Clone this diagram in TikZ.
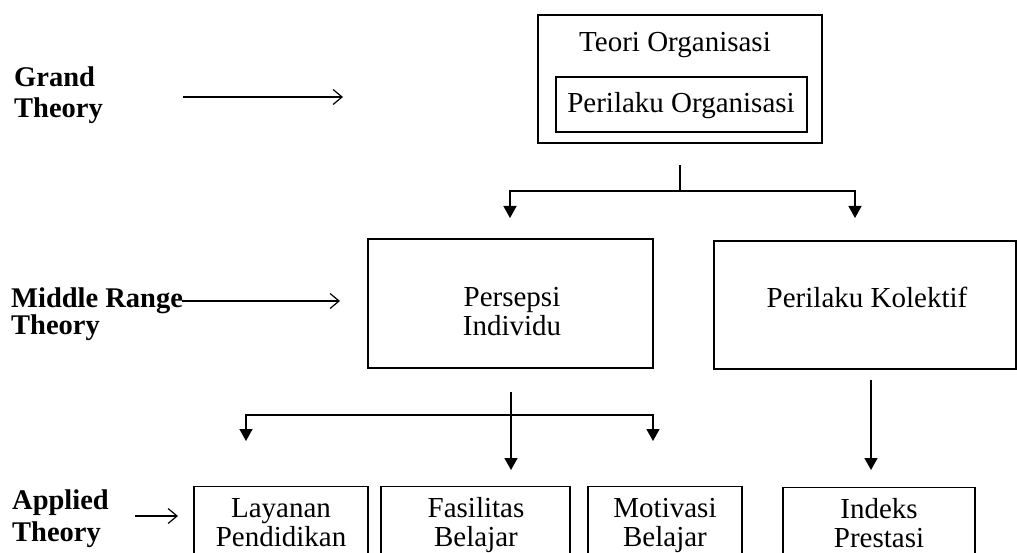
\documentclass[tikz,border=0pt]{standalone}
\usepackage{fontspec}
\setmainfont{Liberation Serif}
\usetikzlibrary{arrows.meta,calc}
\tikzset{
  box/.style={draw, line width=1.2pt, inner sep=0pt},
  txt/.style={font=\fontsize{29}{29}\selectfont, align=center, inner sep=0pt},
  btxt/.style={font=\fontsize{29}{29}\selectfont, align=center, inner sep=0pt},
  lvl/.style={font=\bfseries\fontsize{28.5}{31}\selectfont, align=left, inner sep=0pt, anchor=west},
  ptr/.style={line width=1.2pt, -{Straight Barb[length=9pt,width=15pt,line width=1.2pt]}},
  stub/.style={line width=2.6pt},
  arr/.style={line width=1.5pt, -{Triangle[length=12pt,width=13pt]}},
}
\begin{document}
\begin{tikzpicture}[x=1pt,y=-1pt]
\useasboundingbox (0,0) rectangle (1017,553);
\clip (0,0) rectangle (1017,553);
% top
\node[box, minimum width=284pt, minimum height=128pt] (teori) at (680,79) {};
\node[txt] (teoritxt) at (675,45) {Teori Organisasi};
\node[box, minimum width=251pt, minimum height=55pt] (perorg) at (681.5,104.5) {};
\node[txt] (perorgtxt) at (681,106) {Perilaku Organisasi};
% middle
\node[box, minimum width=285pt, minimum height=129pt] (persepsi) at (510.5,303.5) {};
\node[txt] (persepsitxt) at (512,312) {Persepsi\\Individu};
\node[box, minimum width=302pt, minimum height=128pt] (kolektif) at (865,305) {};
\node[txt] (kolektiftxt) at (867,297) {Perilaku Kolektif};
% bottom
\node[box, minimum width=174pt, minimum height=120pt, anchor=north] (layanan) at (281,486) {};
\node[btxt] (layanantxt) at (281,526.5) {\strut Layanan\\\strut Pendidikan};
\node[box, minimum width=189pt, minimum height=120pt, anchor=north] (fasilitas) at (475.5,486) {};
\node[btxt] (fasilitastxt) at (476,526.5) {\strut Fasilitas\\\strut Belajar};
\node[box, minimum width=154pt, minimum height=120pt, anchor=north] (motivasi) at (665,486) {};
\node[btxt] (motivasitxt) at (665,526.5) {\strut Motivasi\\\strut Belajar};
\node[box, minimum width=192pt, minimum height=120pt, anchor=north] (indeks) at (879,487) {};
\node[btxt] (indekstxt) at (879,527) {\strut Indeks\\\strut Prestasi};
% level labels
\node[lvl] (grand) at (14,95) {Grand\\Theory};
\node[lvl, font=\bfseries\fontsize{28.5}{27}\selectfont] (middle) at (11,314) {Middle Range\\Theory};
\node[lvl, font=\bfseries\fontsize{28.5}{32}\selectfont] (applied) at (12,519) {Applied\\Theory};
\coordinate (g1) at (183,97); \coordinate (g2) at (343,97);
\coordinate (m1) at (182,301); \coordinate (m2) at (340,301);
\coordinate (ap1) at (135,516); \coordinate (ap2) at (178,516);
\draw[ptr] (g1) -- (g2);
\draw[ptr] (m1) -- (m2);
\draw[ptr] (ap1) -- (ap2);
% connectors top -> middle
\coordinate (t0) at (680,165);
\coordinate (j1) at (680,191);
\coordinate (a1) at (510,218);
\coordinate (a2) at (855,218);
\draw[stub] (t0) -- (j1);
\draw[arr] (j1) -| (a1);
\draw[arr] (j1) -| (a2);
% connectors middle -> bottom
\coordinate (p0) at (511,392);
\coordinate (j2) at (511,415);
\coordinate (b1) at (246,441);
\coordinate (b2) at (511,470);
\coordinate (b3) at (653,441);
\draw[stub] (p0) -- (j2);
\draw[arr] (j2) -| (b1);
\draw[arr] (j2) -- (b2);
\draw[arr] (j2) -| (b3);
% kolektif -> indeks
\coordinate (k0) at (871,380);
\coordinate (k1) at (871,470);
\draw[arr] (k0) -- (k1);
\end{tikzpicture}
\end{document}
